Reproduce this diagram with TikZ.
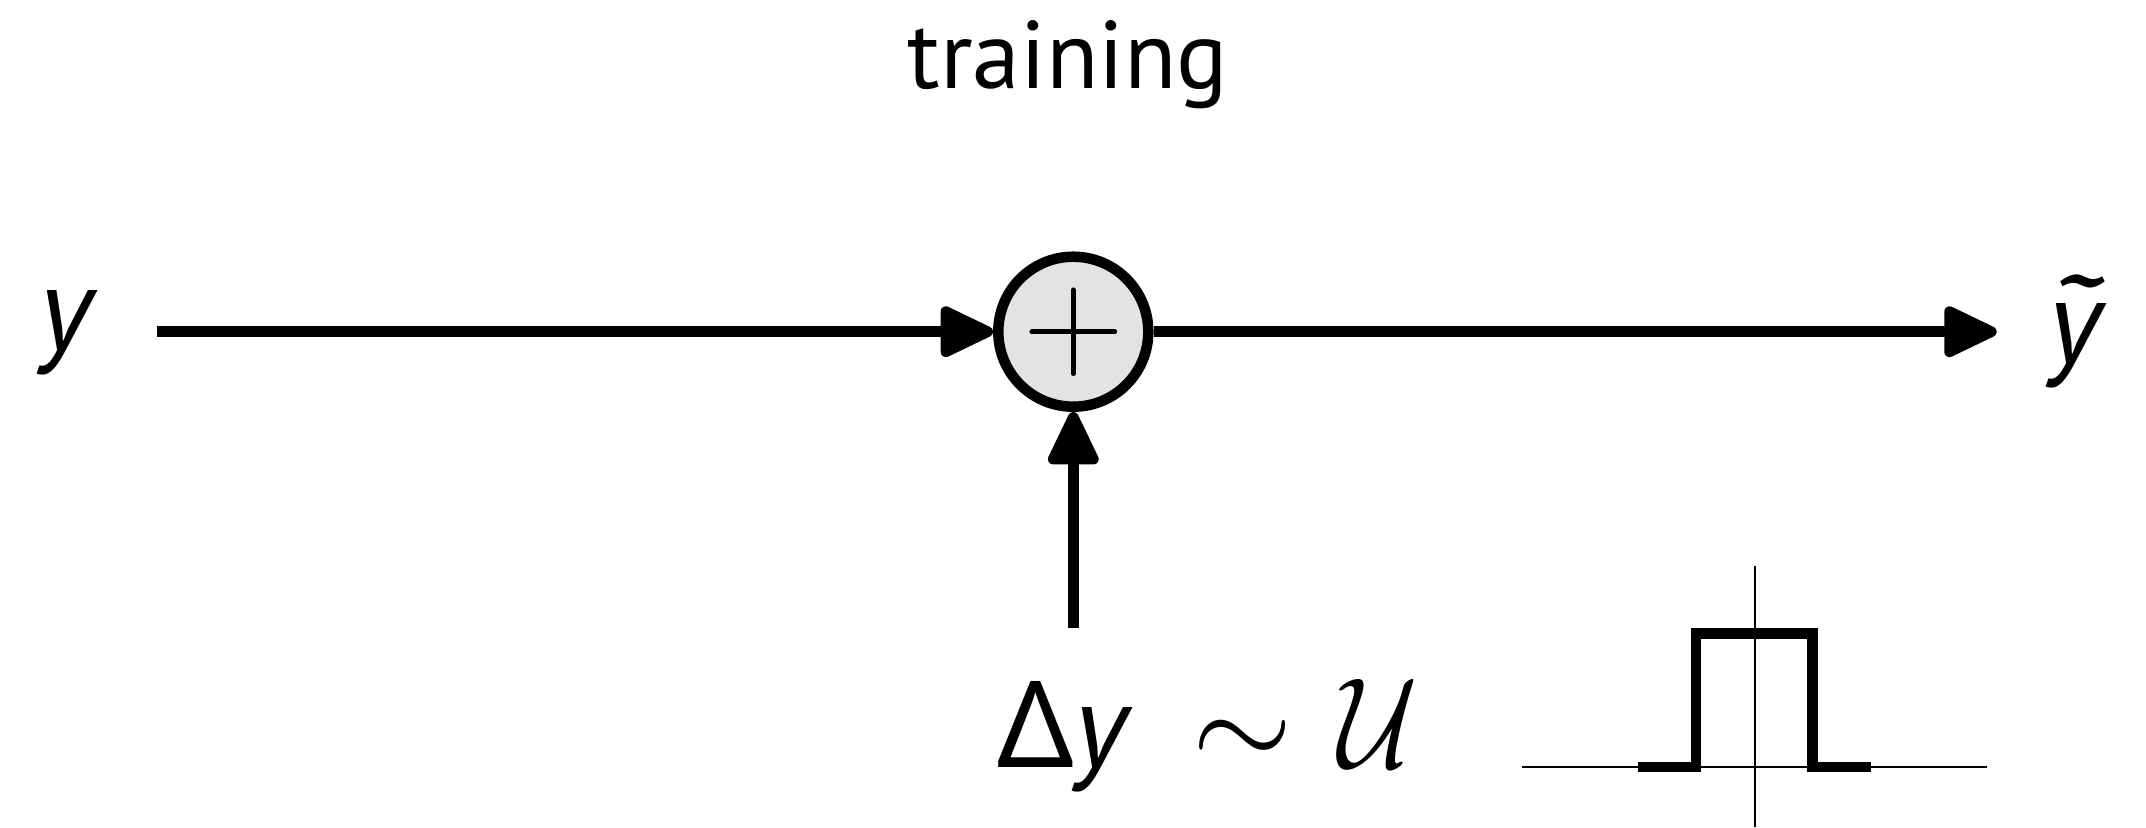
\documentclass[tikz,border=0pt]{standalone}
\usepackage{fontspec}
\setmainfont{PT Sans}
\newfontfamily\greekfont{Noto Sans}
\usetikzlibrary{arrows.meta}
\newcommand{\tildey}{\leavevmode\rlap{\raisebox{0.025em}{\kern-0.11em\scalebox{1.4}[1]{˜}}}y}
\newcommand{\bigmath}[1]{{\fontsize{24.88pt}{30pt}\selectfont\scalebox{2.59}{$#1$}}}
\newcommand{\calU}{{\fontsize{24.88pt}{30pt}\selectfont\scalebox{2.2}[2.59]{$\mathcal{U}$}}}
\begin{document}
\begin{tikzpicture}[x=0.5pt,y=-0.5pt,
  flow/.style={line width=5.25pt,-{Triangle[length=30pt,width=27pt,round]}},
  sumnode/.style={circle,draw,line width=5.25pt,fill=black!11,minimum size=75pt,inner sep=0pt},
  plusline/.style={line width=2.3pt,line cap=round},
  axis/.style={line width=1pt},
  pulse/.style={line width=5.25pt,line join=miter},
  lab/.style={inner sep=0pt,font=\fontsize{60pt}{66pt}\selectfont},
  title/.style={inner sep=0pt,font=\fontsize{48pt}{54pt}\selectfont}]
\useasboundingbox (0,0) rectangle (2146,827);
% title
\node[title,anchor=base] (title) at (1068,88.3) {training};
% sum node
\node[sumnode] (sum) at (1073.3,331.7) {};
\draw[plusline] ([xshift=-20.8pt]sum.center) -- ([xshift=20.8pt]sum.center);
\draw[plusline] ([yshift=-21pt]sum.center) -- ([yshift=21pt]sum.center);
% inputs / outputs
\coordinate (in) at (156.7,331.7);
\coordinate (out) at (1996.7,331.7);
\coordinate (noise) at (1073.3,628);
\draw[flow] (in) -- (sum.west);
\draw[flow] (sum.east) -- (out);
\draw[flow] (noise) -- (sum.south);
% labels
\node[lab,anchor=base] (ylab) at (66,350) {\itshape y};
\node[lab,anchor=base] (ytlab) at (2075,363) {\itshape \tildey};
\node[lab,anchor=base west] (dlab) at (997,767) {{\greekfont Δ}\textit{y}\hspace{0.5em}\bigmath{\sim}\hspace{0.38em}\calU};
% uniform distribution sketch
\draw[axis] (1521.7,767.3) -- (1987,767.3);
\draw[axis] (1754.7,566) -- (1754.7,827);
\draw[pulse] (1638,767) -- (1696,767) -- (1696,633.5) -- (1812.5,633.5) -- (1812.5,767) -- (1871,767);
\end{tikzpicture}
\end{document}
